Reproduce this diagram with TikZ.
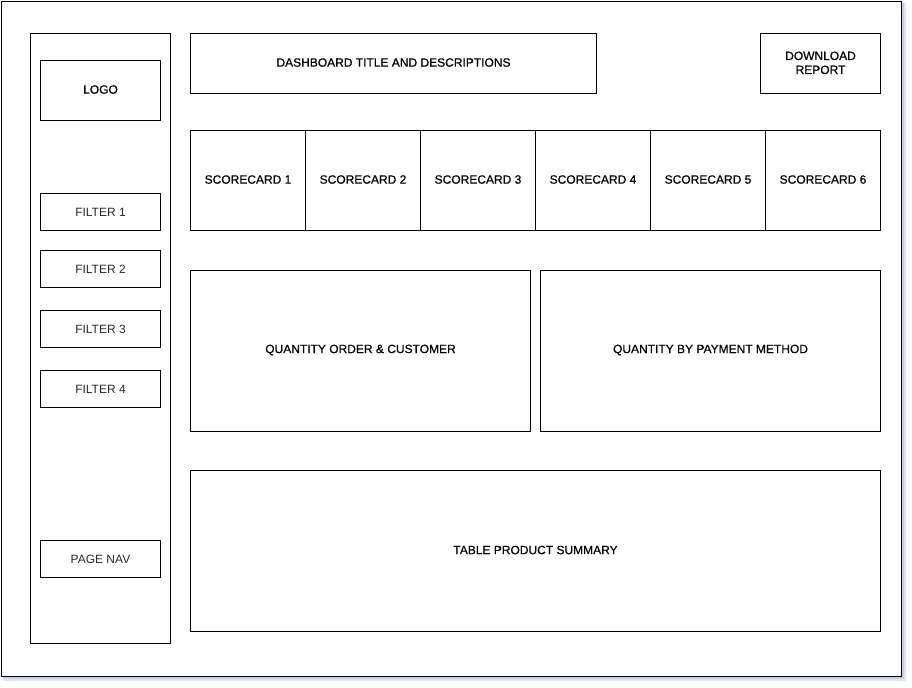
\documentclass[tikz,border=0pt]{standalone}
\usepackage{fontspec}
\setmainfont{Liberation Sans}
\newfontfamily\semib[FakeBold=0.6]{Liberation Sans}
\definecolor{shad}{RGB}{200,204,228}
\definecolor{filt}{RGB}{40,40,40}
\begin{document}
\begin{tikzpicture}[x=0.75pt,y=-0.75pt,
  box/.style={draw=black,line width=0.75pt,fill=white},
  fbox/.style={box}]
\useasboundingbox (0,0) rectangle (912,687);
\fill[shad,opacity=0.5] (3,3) rectangle (906,681);
\fill[shad] (3,3) rectangle (904,679);
\node[draw=black,line width=0.75pt,fill=white,minimum width=900*0.75pt,minimum height=675*0.75pt,inner sep=0,anchor=north west] (frame) at (1,1) {};
\newcommand{\bx}[6]{\node[#6,minimum width={(#4-#2)*0.75pt},minimum height={(#5-#3)*0.75pt},inner sep=0,anchor=north west] (#1) at (#2,#3) {};}
\bx{side}{30}{33}{170}{643}{box}
\bx{logo}{40}{60}{160}{120}{box}
\bx{f1}{40}{193}{160}{230}{fbox}
\bx{f2}{40}{250}{160}{287}{fbox}
\bx{f3}{40}{310}{160}{347}{fbox}
\bx{f4}{40}{370}{160}{407}{fbox}
\bx{nav}{40}{540}{160}{577}{fbox}
\bx{title}{190}{33}{596}{93}{box}
\bx{dl}{760}{33}{880}{93}{box}
\bx{s1}{190}{130}{305}{230}{box}
\bx{s2}{305}{130}{420}{230}{box}
\bx{s3}{420}{130}{535}{230}{box}
\bx{s4}{535}{130}{650}{230}{box}
\bx{s5}{650}{130}{765}{230}{box}
\bx{s6}{765}{130}{880}{230}{box}
\bx{qo}{190}{270}{530}{431}{box}
\bx{qp}{540}{270}{880}{431}{box}
\bx{tbl}{190}{470}{880}{631}{box}
\tikzset{lbl/.style={font=\semib\fontsize{9}{10.5}\selectfont,align=center,text=black,yshift=0.75pt},flbl/.style={font=\fontsize{9}{10.5}\selectfont,align=center,text=filt}}
\node[lbl] at (logo.center) {LOGO};
\node[flbl] at (f1.center) {FILTER 1};
\node[flbl] at (f2.center) {FILTER 2};
\node[flbl] at (f3.center) {FILTER 3};
\node[flbl] at (f4.center) {FILTER 4};
\node[flbl] at (nav.center) {PAGE NAV};
\node[lbl] at (title.center) {DASHBOARD TITLE AND DESCRIPTIONS};
\node[lbl,yshift=-0.25pt] at (dl.center) {DOWNLOAD\\REPORT};
\node[lbl] at (s1.center) {SCORECARD 1};
\node[lbl] at (s2.center) {SCORECARD 2};
\node[lbl] at (s3.center) {SCORECARD 3};
\node[lbl] at (s4.center) {SCORECARD 4};
\node[lbl] at (s5.center) {SCORECARD 5};
\node[lbl] at (s6.center) {SCORECARD 6};
\node[lbl] at (qo.center) {QUANTITY ORDER \& CUSTOMER};
\node[lbl] at (qp.center) {QUANTITY BY PAYMENT METHOD};
\node[lbl] at (tbl.center) {TABLE PRODUCT SUMMARY};
\end{tikzpicture}
\end{document}
